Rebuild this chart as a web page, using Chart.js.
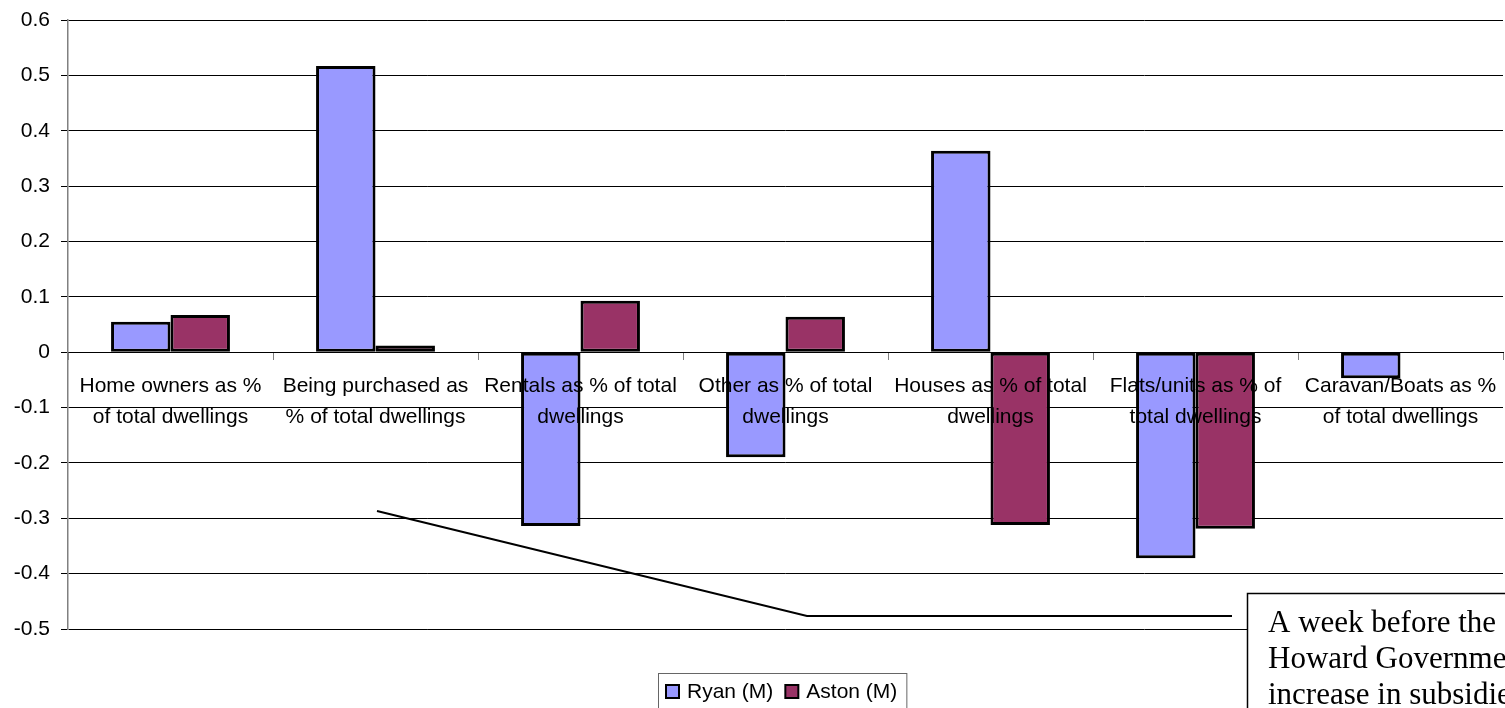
<!DOCTYPE html>
<html>
<head>
<meta charset="utf-8">
<script src="https://cdn.jsdelivr.net/npm/chart.js@4.4.0/dist/chart.umd.min.js"></script>
<style>
html, body { margin: 0; padding: 0; background: #fff; }
#wrap { width: 1505px; height: 708px; overflow: hidden; }
</style>
</head>
<body>
<div id="wrap"><canvas id="myChart" width="1505" height="708"></canvas></div>
<script>
// Datos del gráfico
var categories = [
    ['Home owners as %', 'of total dwellings'],
    ['Being purchased as', '% of total dwellings'],
    ['Rentals as % of total', 'dwellings'],
    ['Other as % of total', 'dwellings'],
    ['Houses as % of total', 'dwellings'],
    ['Flats/units as % of', 'total dwellings'],
    ['Caravan/Boats as %', 'of total dwellings']
];
var ryanValues = [0.055, 0.517, -0.314, -0.190, 0.364, -0.372, -0.047];
var astonValues = [0.067, 0.012, 0.093, 0.064, -0.312, -0.319, null];
var yTicks = [-0.5, -0.4, -0.3, -0.2, -0.1, 0, 0.1, 0.2, 0.3, 0.4, 0.5, 0.6];
var seriesNames = ['Ryan (M)', 'Aston (M)'];
var seriesColors = ['#9999FF', '#993366'];
var noteLines = ['A week before the', 'Howard Government', 'increase in subsidies'];

Chart.defaults.font.family = '"Liberation Sans", Arial, sans-serif';
Chart.defaults.font.size = 21;
Chart.defaults.color = '#000';

// Leyenda con recuadro y nota de texto (dibujadas a mano)
var extrasPlugin = {
    id: 'extras',
    afterDraw: function(chart) {
        var ctx = chart.ctx;
        var area = chart.chartArea;
        ctx.save();

        // linea guia de la nota
        ctx.strokeStyle = '#000';
        ctx.lineWidth = 2;
        ctx.beginPath();
        ctx.moveTo(377, 511);
        ctx.lineTo(807, 616);
        ctx.lineTo(1232, 616);
        ctx.stroke();

        // recuadro de la nota
        ctx.fillStyle = '#fff';
        ctx.fillRect(1247, 593, 300, 160);
        ctx.lineWidth = 1.5;
        ctx.strokeRect(1247.5, 593.5, 300, 160);
        ctx.fillStyle = '#000';
        ctx.font = '31px "Liberation Serif", "Times New Roman", serif';
        ctx.textBaseline = 'alphabetic';
        ctx.textAlign = 'left';
        for (var i = 0; i < noteLines.length; i++) {
            ctx.fillText(noteLines[i], 1268, 632 + i * 36);
        }

        // leyenda
        ctx.font = '21px "Liberation Sans", Arial, sans-serif';
        var sq = 13, pad = 8, gap = 8, between = 12;
        var widths = seriesNames.map(function(n) { return ctx.measureText(n).width; });
        var total = pad * 2 + 1;
        for (var k = 0; k < widths.length; k++) {
            total += sq + gap + widths[k];
        }
        total += between * (widths.length - 1);
        var left = Math.round((area.left + area.right) / 2 - 3 - total / 2);
        var top = 673;
        ctx.fillStyle = '#fff';
        ctx.fillRect(left, top, total, 40);
        ctx.strokeStyle = '#666';
        ctx.lineWidth = 1;
        ctx.strokeRect(left + 0.5, top + 0.5, total, 40);

        var x = left + pad;
        var cy = 691;
        ctx.textBaseline = 'middle';
        for (var j = 0; j < seriesNames.length; j++) {
            ctx.fillStyle = seriesColors[j];
            ctx.fillRect(x, cy - 6, sq, sq);
            ctx.strokeStyle = '#000';
            ctx.lineWidth = 2;
            ctx.strokeRect(x, cy - 6, sq, sq);
            ctx.fillStyle = '#000';
            ctx.fillText(seriesNames[j], x + sq + gap, cy + 1);
            x += sq + gap + widths[j] + between;
        }
        ctx.restore();
    }
};

var ctx = document.getElementById('myChart').getContext('2d');
var myChart = new Chart(ctx, {
    type: 'bar',
    data: {
        labels: categories,
        datasets: [{
            label: seriesNames[0],
            data: ryanValues,
            backgroundColor: seriesColors[0],
            borderColor: '#000',
            borderWidth: 3,
            borderSkipped: false
        }, {
            label: seriesNames[1],
            data: astonValues,
            backgroundColor: seriesColors[1],
            borderColor: '#000',
            borderWidth: 3,
            borderSkipped: false
        }]
    },
    options: {
        responsive: false,
        animation: false,
        devicePixelRatio: 1,
        layout: {
            padding: { left: 0, top: 20, right: 2, bottom: 79 }
        },
        datasets: {
            bar: {
                categoryPercentage: 0.58,
                barPercentage: 1
            }
        },
        plugins: {
            legend: { display: false },
            tooltip: { enabled: false }
        },
        scales: {
            x: {
                position: { y: 0 },
                offset: true,
                grid: {
                    offset: true,
                    drawOnChartArea: false,
                    drawTicks: true,
                    tickLength: 7,
                    color: '#808080'
                },
                border: { color: '#000', width: 1 },
                ticks: {
                    z: 1,
                    maxRotation: 0,
                    autoSkip: false,
                    padding: 11,
                    color: '#000',
                    font: { size: 21, lineHeight: 1.48 }
                },
                afterFit: function(scale) {
                    scale.paddingLeft = 0;
                    scale.paddingRight = 0;
                }
            },
            y: {
                min: -0.5,
                max: 0.6,
                grid: {
                    color: '#000',
                    lineWidth: 1,
                    drawTicks: true,
                    tickLength: 7,
                    tickColor: '#000'
                },
                border: { color: '#808080', width: 1.5 },
                ticks: {
                    padding: 11,
                    color: '#000',
                    font: { size: 21 },
                    callback: function(v) { return String(+(+v).toFixed(1)); }
                },
                afterBuildTicks: function(scale) {
                    scale.ticks = yTicks.map(function(v) { return { value: v }; });
                },
                afterFit: function(scale) {
                    scale.width = 68;
                    scale.paddingTop = 0;
                    scale.paddingBottom = 0;
                }
            }
        }
    },
    plugins: [extrasPlugin]
});
</script>
</body>
</html>
